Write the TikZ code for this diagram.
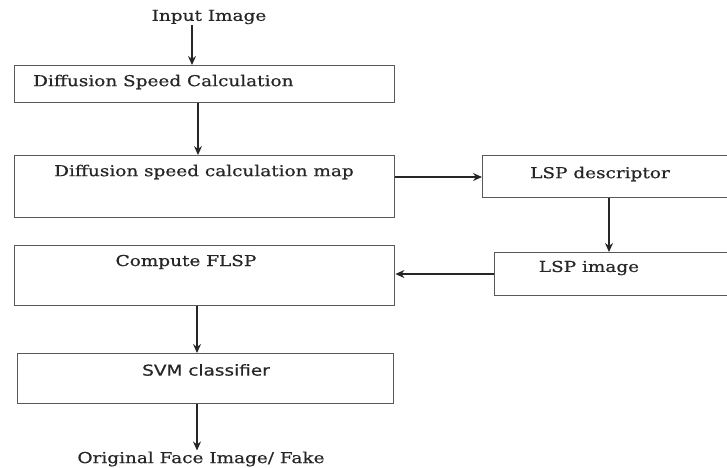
\documentclass[tikz,border=0pt]{standalone}
\usepackage{fontspec}
\setmainfont[FakeStretch=1.23,FakeBold=0.6]{DejaVu Serif}
\newfontfamily\svmfont[FakeStretch=1.23,FakeBold=0.6]{DejaVu Sans}
\usepackage{tikz}
\usepackage{xcolor}
\usetikzlibrary{arrows.meta}

\begin{document}
\begin{tikzpicture}[x=1pt,y=-1pt,
    box/.style={draw=black!65,line width=1.4pt,anchor=north west,inner sep=0pt},
    txt/.style={font=\fontsize{15}{17}\selectfont,text=black!85,inner sep=1pt},
    arr/.style={-{Stealth[length=9pt,width=8pt]},black!85,line width=1.1pt}]
      \useasboundingbox (0,0) rectangle (727,467);
      \clip (0,0) rectangle (727,467);
      % boxes
      \node [box,minimum width=380pt,minimum height=37pt] (calc) at (14,65) {};
      \node [box,minimum width=380pt,minimum height=62pt] (map) at (14,155) {};
      \node [box,minimum width=280pt,minimum height=42pt] (desc) at (482,155) {};
      \node [box,minimum width=280pt,minimum height=43pt] (lspimg) at (494,252) {};
      \node [box,minimum width=380pt,minimum height=60pt] (flsp) at (14,245) {};
      \node [box,minimum width=376pt,minimum height=50pt] (svm) at (17,353) {};
      % texts
      \node [txt] (input) at (209,17) {Input Image};
      \node [txt,anchor=west] (calct) at (32,82) {Diffusion Speed Calculation};
      \node [txt] (mapt) at (204,172) {Diffusion speed calculation map};
      \node [txt] (desct) at (600,174) {LSP descriptor};
      \node [txt] (lspimgt) at (589,268) {LSP image};
      \node [txt] (flspt) at (186,262) {Compute FLSP};
      \node [txt,font=\svmfont\fontsize{15}{17}\selectfont] (svmt) at (206,370) {SVM classifier};
      \node [txt] (out) at (201,459) {Original Face Image/ Fake};
      % connectors
      \draw [arr] ([xshift=-17pt]input.south) -- ([xshift=-17pt]input.south |- calc.north);
      \draw [arr] (calc.south -| 198,0) -- (map.north -| 198,0);
      \draw [arr] (map.east |- 0,177) -- (desc.west |- 0,177);
      \draw [arr] (desc.south -| 609,0) -- (lspimg.north -| 609,0);
      \draw [arr] (lspimg.west |- 0,274) -- (flsp.east |- 0,274);
      \draw [arr] (flsp.south -| 197,0) -- (svm.north -| 197,0);
      \draw [arr] (svm.south -| 197,0) -- (out.north -| 197,0);
\end{tikzpicture}
\end{document}
